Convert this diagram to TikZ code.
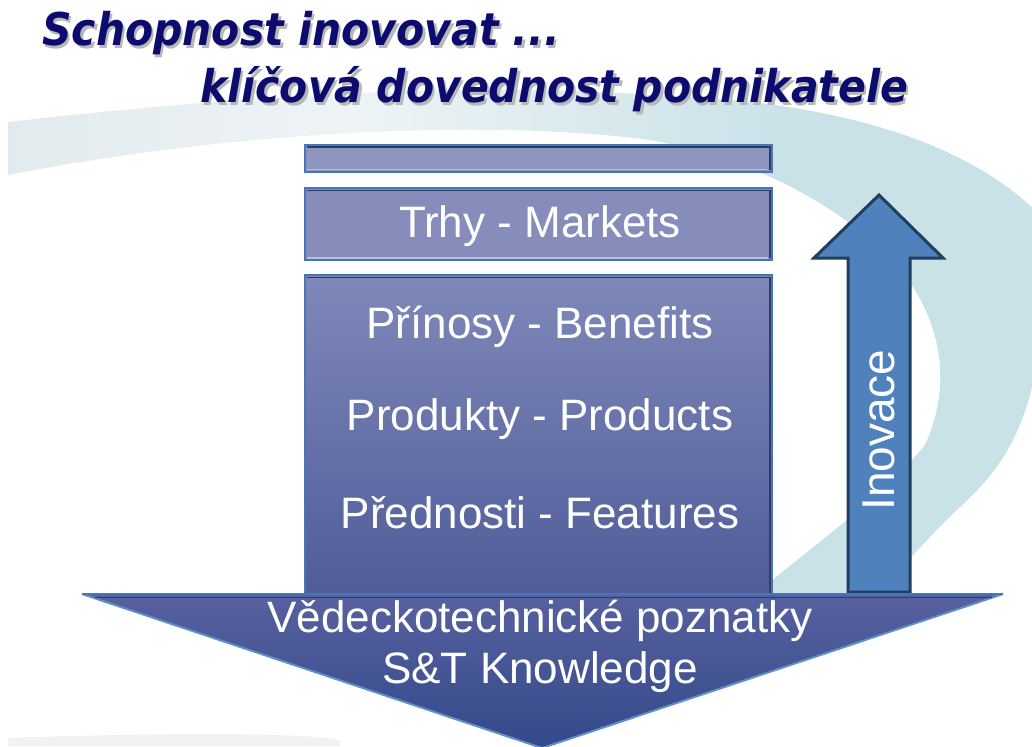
\documentclass[tikz,border=0pt]{standalone}
\usepackage{fontspec}
\newfontfamily\arialf{Liberation Sans}
\newfontfamily\titlef{DejaVu Sans}
\definecolor{swL}{HTML}{E2EAEE}
\definecolor{swM}{HTML}{EEF4F6}
\definecolor{swR}{HTML}{C9E2E8}
\definecolor{titlecol}{HTML}{0C0C6E}
\definecolor{shadowcol}{HTML}{B8B8B8}
\definecolor{boxedge}{HTML}{4676B6}
\definecolor{bevdark}{HTML}{2F3B69}
\definecolor{bevlight}{HTML}{B8C2DE}
\definecolor{barfill}{HTML}{8D95BF}
\definecolor{trhyfill}{HTML}{868DBA}
\definecolor{bigtop}{HTML}{7F88B9}
\definecolor{bigbot}{HTML}{4E5B98}
\definecolor{arrtop}{HTML}{57619F}
\definecolor{arrbot}{HTML}{33498A}
\definecolor{arredge}{HTML}{5E8ECC}
\definecolor{upfill}{HTML}{4F81BD}
\definecolor{upedge}{HTML}{233D5E}
\newcommand{\tstretch}[1]{\scalebox{1}[1.1]{#1}}
\tikzset{
  titletxt/.style={text=titlecol, inner sep=0pt, font=\titlef\bfseries\itshape\fontsize{41}{46}\selectfont},
  titleshadow/.style={text=shadowcol, inner sep=0pt, font=\titlef\bfseries\itshape\fontsize{41}{46}\selectfont},
  boxbase/.style={draw=boxedge, line width=2.5pt, minimum width=467pt, inner sep=0pt},
  bevd/.style={draw=bevdark, line width=1.5pt},
  bevl/.style={draw=bevlight, line width=1.5pt},
  lbl/.style={text=white, inner sep=0pt, font=\arialf\fontsize{44}{50}\selectfont},
  uparrow/.style={fill=upfill, draw=upedge, line width=3pt, line join=miter},
}
\begin{document}
\begin{tikzpicture}[x=1pt,y=-1pt]
\useasboundingbox (0,0) rectangle (1032,746);
\fill[white] (0,0) rectangle (1032,746);
% background swoosh
\begin{scope}
\clip (8,122) .. controls (200,100) and (450,80) .. (650,95)
  .. controls (820,100) and (960,135) .. (1040,215) -- (1040,340)
  .. controls (1030,430) and (1000,470) .. (960,507)
  .. controls (930,535) and (890,580) .. (860,615) -- (730,615)
  .. controls (800,555) and (880,500) .. (925,445)
  .. controls (950,390) and (945,330) .. (905,275)
  .. controls (850,210) and (760,160) .. (650,140)
  .. controls (500,120) and (250,128) .. (8,175) -- cycle;
\shade[left color=swL, right color=swM] (0,60) rectangle (350,620);
\shade[left color=swM, right color=swR] (350,60) rectangle (780,620);
\fill[swR] (780,60) rectangle (1040,620);
\end{scope}
\fill[black!5] (8,746) -- (8,738) .. controls (150,733) and (300,732) .. (340,740) -- (340,746) -- cycle;
% title
\node[titleshadow, anchor=base west] (t1s) at (44.5,48.5) {\tstretch{Schopnost inovovat ...}};
\node[titletxt, anchor=base west] (t1) at (42,46) {\tstretch{Schopnost inovovat ...}};
\node[titleshadow, anchor=base west] (t2s) at (202.5,105.5) {\tstretch{klíčová dovednost podnikatele}};
\node[titletxt, anchor=base west] (t2) at (200,103) {\tstretch{klíčová dovednost podnikatele}};
% boxes
\node[boxbase, fill=barfill, minimum height=27pt] (bar) at (538.5,158.5) {};
\node[boxbase, fill=trhyfill, minimum height=72pt] (trhy) at (538.5,224) {};
\node[boxbase, top color=bigtop, bottom color=bigbot, minimum height=330pt] (big) at (538.5,440) {};
\foreach \b in {bar,trhy,big}{
  \draw[bevd] ([shift={(3pt,-3.5pt)}]\b.north west) -- ([shift={(-3.5pt,-3.5pt)}]\b.north east) -- ([shift={(-3.5pt,3pt)}]\b.south east);
}
\foreach \b in {bar,trhy}{
  \draw[bevl] ([shift={(3pt,3.5pt)}]\b.south west) -- ([shift={(-5pt,3.5pt)}]\b.south east);
}
% up arrow
\draw[uparrow] (848,592) -- (848,258) -- (814,258) -- (879,195) -- (943,258) -- (910,258) -- (910,592) -- cycle;
% down arrow
\shade[top color=arrtop, bottom color=arrbot] (82,594) -- (1003,594) -- (542,748) -- cycle;
\draw[arredge, line width=2pt] (82,594) -- (542,748) -- (1003,594);
\draw[bevdark, line width=1.5pt] (95,597.5) -- (992,597.5);
\draw[boxedge, line width=2pt] (82,594) -- (1003,594);
% labels
\node[lbl, anchor=base] (tm) at (540,237) {Trhy - Markets};
\node[lbl, anchor=base] (pb) at (540,338) {Přínosy - Benefits};
\node[lbl, anchor=base] (pp) at (540,430) {Produkty - Products};
\node[lbl, anchor=base] (pf) at (540,528) {Přednosti - Features};
\node[lbl, anchor=base] (vp) at (540,632) {Vědeckotechnické poznatky};
\node[lbl, anchor=base] (st) at (540,683) {S\&T Knowledge};
\node[lbl, rotate=90, font=\arialf\fontsize{46}{52}\selectfont] (inov) at (879,430) {Inovace};
\end{tikzpicture}
\end{document}
